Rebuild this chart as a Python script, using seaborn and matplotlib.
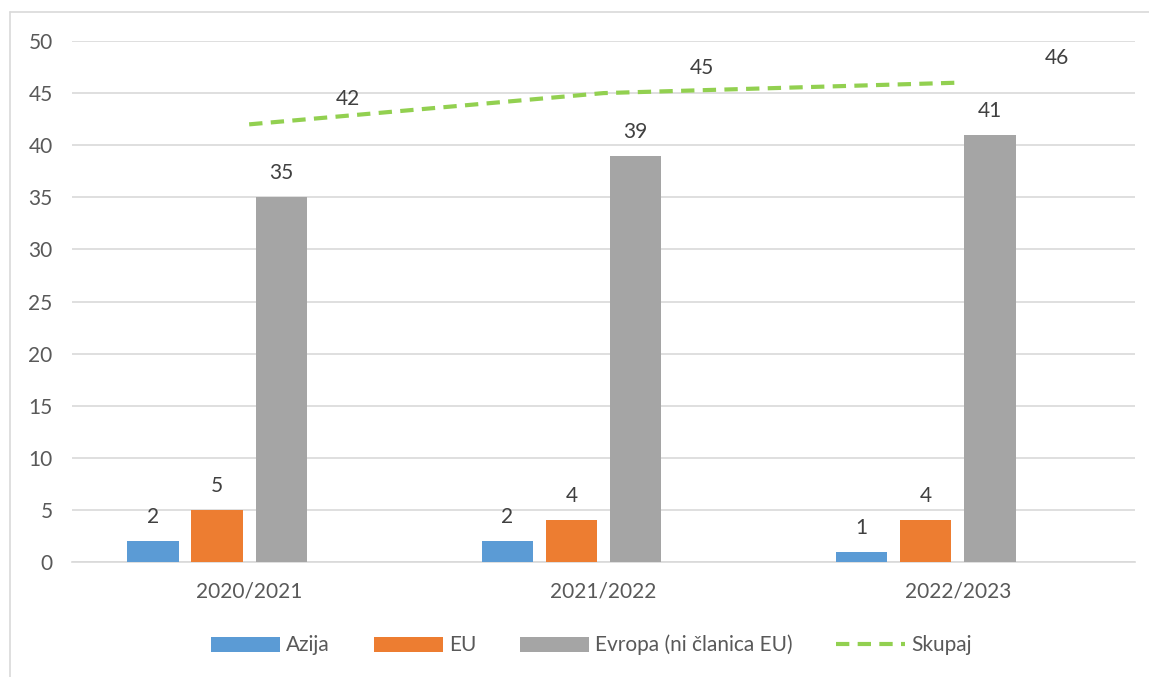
import matplotlib
matplotlib.use("Agg")
import matplotlib.pyplot as plt
import numpy as np
import pandas as pd
import seaborn as sns
from matplotlib.patches import Patch
from matplotlib.lines import Line2D

# ---- data ----
years = ["2020/2021", "2021/2022", "2022/2023"]
azija = [2, 2, 1]
eu = [5, 4, 4]
evropa = [35, 39, 41]
skupaj = [42, 45, 46]
series_names = ["Azija", "EU", "Evropa (ni članica EU)", "Skupaj"]
colors = ["#5B9BD5", "#ED7D31", "#A5A5A5", "#92D050"]
yticks = list(range(0, 51, 5))

sns.set_theme(style="white")
plt.rcParams["font.family"] = ["Lato", "DejaVu Sans"]

df = pd.DataFrame({
    "year": years * 3,
    "series": [series_names[0]] * 3 + [series_names[1]] * 3 + [series_names[2]] * 3,
    "value": azija + eu + evropa,
})

W, H = 1149, 677
fig = plt.figure(figsize=(W / 100, H / 100), dpi=100)
fig.patch.set_facecolor("white")
ax = fig.add_axes([72 / W, 115 / H, (1135 - 72) / W, 521 / H])

sns.barplot(data=df, x="year", y="value", hue="series", hue_order=series_names,
            palette=dict(zip(series_names, colors)), width=0.724, gap=0.2,
            saturation=1, errorbar=None, legend=False, ax=ax, zorder=3,
            edgecolor="none")

for c in ax.containers:
    ax.bar_label(c, fmt="%g", padding=10, fontsize=15, color="#404040")

xs = np.arange(len(years))
ax.plot(xs, skupaj, color=colors[3], lw=3, ls=(0, (3.2, 2.0)), zorder=4)
for x, v in zip(xs, skupaj):
    ax.annotate(f"{v:g}", (x, v), xytext=(71, 18), textcoords="offset points",
                ha="center", va="center", fontsize=15, color="#404040")

ax.set_xlim(-0.5, 2.5)
ax.set_ylim(0, 50)
ax.set_yticks(yticks)
ax.yaxis.grid(True, color="#d9d9d9", lw=1.2, zorder=0)
ax.set_axisbelow(True)
for s in ["top", "right", "left"]:
    ax.spines[s].set_visible(False)
ax.spines["bottom"].set_color("#d9d9d9")
ax.spines["bottom"].set_linewidth(1.2)
ax.tick_params(axis="both", length=0, labelsize=15, colors="#595959")
ax.tick_params(axis="x", pad=14)
ax.tick_params(axis="y", pad=14)
ax.set_xlabel("")
ax.set_ylabel("")

handles = [Patch(facecolor=colors[i], edgecolor="none") for i in range(3)]
handles.append(Line2D([0], [0], color=colors[3], lw=3, ls=(0, (3.2, 2.0))))
fig.legend(handles, series_names, loc="center", bbox_to_anchor=(0.515, 0.047),
           ncol=4, frameon=False, fontsize=15, labelcolor="#595959",
           handlelength=3.3, handleheight=0.72, handletextpad=0.3,
           columnspacing=2.1)

# chart area border (left and top visible)
fig.add_artist(Line2D([10 / W, 10 / W], [0, 1 - 12 / H], transform=fig.transFigure,
                      color="#d9d9d9", lw=1.2))
fig.add_artist(Line2D([10 / W, 1], [1 - 12 / H, 1 - 12 / H], transform=fig.transFigure,
                      color="#d9d9d9", lw=1.2))

fig.savefig("out.png", dpi=100)
